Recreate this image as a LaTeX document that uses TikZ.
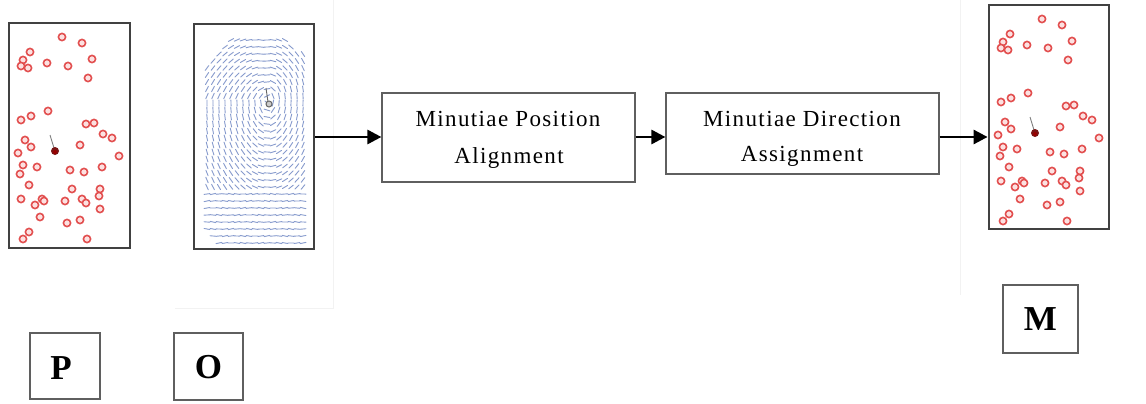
\documentclass[tikz,border=0pt]{standalone}
\usepackage{fontspec}
\setmainfont{Liberation Serif}
\usetikzlibrary{arrows.meta}
\definecolor{framegray}{RGB}{65,65,65}
\definecolor{boxgray}{RGB}{95,95,95}
\definecolor{dotred}{RGB}{226,78,78}
\definecolor{dotfill}{RGB}{252,225,225}
\definecolor{coredark}{RGB}{120,20,20}
\definecolor{fieldblue}{RGB}{135,155,205}
\definecolor{faint}{RGB}{242,242,242}
\tikzset{
  panel/.style={draw=framegray, line width=2.8pt, fill=white, inner sep=0pt},
  procbox/.style={draw=boxgray, line width=1.2pt, fill=white, inner sep=0pt},
  labbox/.style={draw=boxgray, line width=1.3pt, fill=white, inner sep=0pt},
  boxtext/.style={anchor=base, inner sep=0pt, font=\fontsize{23}{27}\selectfont\addfontfeature{LetterSpace=6}},
  labtext/.style={anchor=base, inner sep=0pt, font=\fontsize{35}{40}\selectfont\bfseries},
  arr/.style={draw=black, line width=2.8pt, -{Triangle[length=14pt,width=14pt]}},
  minu/.style={draw=dotred, line width=1.6pt, fill=dotfill},
  field/.style={draw=fieldblue, line width=0.9pt, line cap=round}
}
\newcommand{\minutiaeset}{%
  \foreach \px/\py in {62/37,82/43,30/52,23/60,21/66,28/68,47/63,68/66,92/59,88/78,
    48/111,21/120,31/116,86/124,94/123,103/134,112/138,25/140,31/147,80/145,
    18/153,119/156,23/165,37/167,102/167,20/174,70/170,84/172,29/185,72/189,
    100/189,21/199,42/199,44/201,35/205,65/201,82/199,86/203,99/196,40/217,
    100/209,67/223,80/220,29/232,23/239,87/239}{
    \draw[minu] (\px,\py) circle (3.6);
  }
  \draw[gray, line width=0.9pt] (54,148) -- (50,135);
  \fill[coredark] (55,151) circle (4);
  \fill[red!60!black] (55,152) circle (2);
}
\begin{document}
\begin{tikzpicture}[x=1pt,y=-1pt]
\useasboundingbox (0,0) rectangle (1146,404);
\fill[white] (0,0) rectangle (1146,404);
% faint image edges
\draw[faint, line width=1pt] (333,0) -- (333,308) -- (175,308);
\draw[faint, line width=1pt] (960,0) -- (960,295);
% panels
\node[panel, minimum width=121pt, minimum height=225pt] (P) at (69.5,135.5) {};
\node[panel, minimum width=120pt, minimum height=225pt] (O) at (254,136.5) {};
\node[panel, minimum width=120pt, minimum height=224pt] (M) at (1049,117) {};
% minutiae in P and M
\minutiaeset
\begin{scope}[shift={(980,-18)}]
  \minutiaeset
\end{scope}
% orientation field in O
\foreach \i in {0,...,16}{
  \foreach \j in {0,...,29}{
    \pgfmathsetmacro\x{207+6*\i}
    \pgfmathsetmacro\y{40+7*\j}
    \pgfmathparse{((\x-207+\y-38>=24) && (303-\x+\y-38>=16) && (\x-207+243-\y>=10)) ? 1 : 0}
    \ifnum\pgfmathresult=1
      \pgfmathsetmacro\kk{\y<100 ? 2 : 3}
      \pgfmathsetmacro\tilt{\x<262 ? 22 : 0}
      \pgfmathsetmacro\th{\y>188 ? 12*sin(9*\x+40*\j) : atan2(\x-268,(100-\y)/\kk)+(\y<100 ? \tilt : 0)}
      \draw[field] ({\x-3*cos(\th)},{\y-3*sin(\th)}) -- ({\x+3*cos(\th)},{\y+3*sin(\th)});
    \fi
  }
}
\draw[gray!80!black, line width=0.9pt] (268,102) -- (266,88);
\draw[gray!80!black, line width=1pt, fill=gray!40] (269,104) circle (3);
% process boxes
\node[procbox, minimum width=253pt, minimum height=89pt] (b1) at (508.5,137.5) {};
\node[procbox, minimum width=273pt, minimum height=81pt] (b2) at (802.5,133.5) {};
\node[boxtext] (t1a) at (508,126.7) {Minutiae Position};
\node[boxtext] (t1b) at (509,163) {Alignment};
\node[boxtext] (t2a) at (802,126.7) {Minutiae Direction};
\node[boxtext] (t2b) at (802,161.7) {Assignment};
% arrows
\coordinate (ay) at (0,137);
\draw[arr] (O.east |- ay) -- (b1.west |- ay);
\draw[arr] (b1.east |- ay) -- (b2.west |- ay);
\draw[arr] (b2.east |- ay) -- (M.west |- ay);
% labels
\node[labbox, minimum width=70pt, minimum height=66pt] (lP) at (65,366) {};
\node[labbox, minimum width=69pt, minimum height=67pt] (lO) at (208.5,366.5) {};
\node[labbox, minimum width=75pt, minimum height=68pt] (lM) at (1040.5,319) {};
\node[labtext] at (61,379.3) {P};
\node[labtext] at (208.5,378.5) {O};
\node[labtext] at (1040.5,330) {M};
\end{tikzpicture}
\end{document}
